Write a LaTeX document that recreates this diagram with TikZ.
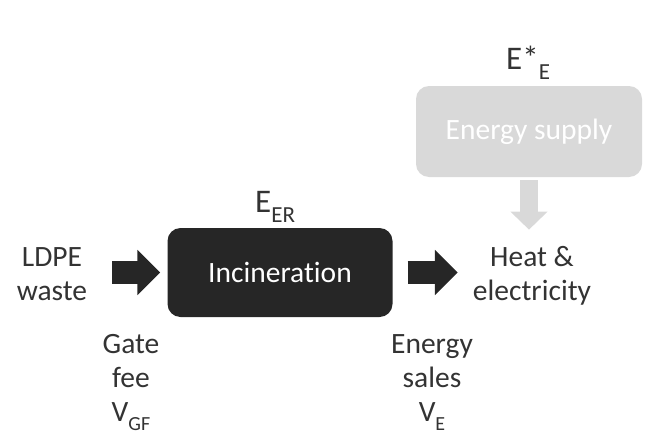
\documentclass[tikz,border=0pt]{standalone}
\usepackage{fontspec}
\setmainfont{Carlito}[Ligatures=NoCommon]
\usetikzlibrary{arrows.meta}
\definecolor{dark}{HTML}{262626}
\definecolor{lite}{HTML}{D9D9D9}
\definecolor{txt}{HTML}{333333}
\begin{document}
\begin{tikzpicture}[x=1pt,y=-1pt,
  lbl/.style={inner sep=0pt, align=center, text=txt, font=\fontsize{29.5}{34}\selectfont},
  box/.style={rounded corners=13pt, minimum width=225pt, minimum height=89pt, inner sep=0pt, font=\fontsize{29.5}{34}\selectfont, text=white},
  blk/.style={line width=23pt, draw=dark, -{Triangle[width=44pt,length=23pt]}},
  gry/.style={line width=18pt, draw=lite, -{Triangle[width=36pt,length=18pt]}},
  elab/.style={inner sep=0pt, anchor=base west, text=txt, font=\fontsize{33}{33}\selectfont}]
\useasboundingbox (0,0) rectangle (645,431);
\node[box, fill=dark] (inc) at (280,272.5) {Incineration};
\node[box, fill=lite, minimum width=226pt, minimum height=91pt] (sup) at (529,131.5) {Energy supply};
\node[lbl, anchor=base] (ldpe) at (52,300) {LDPE\\waste};
\node[lbl, anchor=base] (heat) at (532,300) {Heat \&\\electricity};
\node[lbl, anchor=base] (gate) at (131,421) {Gate\\fee\\V\raisebox{-9pt}{\fontsize{20}{20}\selectfont GF}};
\node[lbl, anchor=base] (sales) at (432,421) {Energy\\sales\\V\raisebox{-9pt}{\fontsize{20}{20}\selectfont E}};
\node[elab] (eer) at (255,212) {E\raisebox{-10pt}{\fontsize{23}{23}\selectfont ER}};
\node[elab] (ee) at (506,69) {E*\raisebox{-10pt}{\fontsize{23}{23}\selectfont E}};
\draw[blk, shorten <=25pt, shorten >=7pt] (ldpe.east |- inc.west) -- (inc.west);
\draw[blk, shorten <=15pt, shorten >=15pt] (inc.east) -- (heat.west |- inc.east);
\draw[gry, shorten <=3pt, shorten >=16pt] (sup.south) -- (sup.south |- heat.north);
\end{tikzpicture}
\end{document}
